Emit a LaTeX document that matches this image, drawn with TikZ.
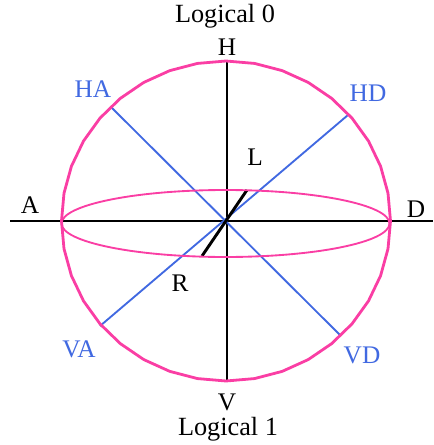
\documentclass[tikz,border=0pt]{standalone}
\usepackage{fontspec}
\setmainfont{Liberation Serif}
\usetikzlibrary{positioning, calc}
\definecolor{sphereink}{HTML}{FA3EA4}
\definecolor{basisblue}{HTML}{4169E1}

\begin{document}
\begin{tikzpicture}[
    x=0.75pt, y=-0.75pt,
    axis/.style={draw=black, line width=1.5pt},
    basis/.style={draw=basisblue, line width=1.4pt},
    circular/.style={draw=black, line width=2.2pt},
    sphere/.style={draw=sphereink, line width=2.1pt, line join=round},
    equator/.style={draw=sphereink, line width=1.4pt},
    label/.style={font=\fontsize{19}{21}\selectfont, text=black, inner sep=0pt},
    bluelabel/.style={label, text=basisblue},
    title/.style={font=\fontsize{19.7}{22}\selectfont, text=black, inner sep=0pt}
]
\useasboundingbox (0,0) rectangle (433,445);

\node (logical0) [title] at (225,16) {Logical 0};
\node (logical1) [title] at (228,429) {Logical 1};
\node (h) [label] at (227,47) {H};
\node (v) [label] at (227,402) {V};
\node (a) [label] at (30,205) {A};
\node (d) [label] at (416,209) {D};
\node (l) [label] at (255,157) {L};
\node (r) [label] at (180,283) {R};
\node (ha) [bluelabel] at (93,89) {HA};
\node (hd) [bluelabel] at (368,93) {HD};
\node (va) [bluelabel] at (79,349) {VA};
\node (vd) [bluelabel] at (362,355) {VD};

\coordinate (north) at (227,61);
\coordinate (south) at (227,381);
\coordinate (west) at (10,221);
\coordinate (east) at (433,221);
\coordinate (haend) at (111,107);
\coordinate (vdend) at (340,335);
\coordinate (hdend) at (348,115);
\coordinate (vaend) at (100,326);
\coordinate (lend) at (247,190);
\coordinate (rend) at (202,256);

\draw [axis] (north) -- (south);
\draw [axis] (west) -- (east);
\draw [basis] (haend) -- (vdend);
\draw [basis] (hdend) -- (vaend);
\draw [circular] (lend) -- (rend);

\draw [equator] (225.5,223.5) ellipse [x radius=164, y radius=33.5];
\draw [sphere] plot [samples=37, domain=0:360] ({226+164.5*cos(\x)},{221+160*sin(\x)});

\end{tikzpicture}
\end{document}
